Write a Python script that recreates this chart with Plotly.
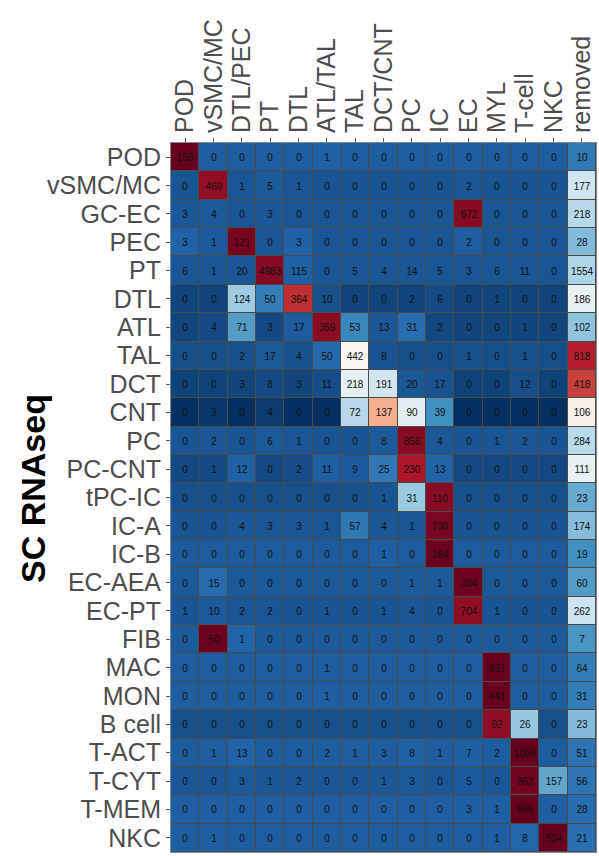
import numpy as np
import plotly.graph_objects as go

columns = ["POD", "vSMC/MC", "DTL/PEC", "PT", "DTL", "ATL/TAL", "TAL", "DCT/CNT",
           "PC", "IC", "EC", "MYL", "T-cell", "NKC", "removed"]
rows = ["POD", "vSMC/MC", "GC-EC", "PEC", "PT", "DTL", "ATL", "TAL", "DCT", "CNT",
        "PC", "PC-CNT", "tPC-IC", "IC-A", "IC-B", "EC-AEA", "EC-PT", "FIB", "MAC",
        "MON", "B cell", "T-ACT", "T-CYT", "T-MEM", "NKC"]

r_POD    = [159, 0, 0, 0, 0, 1, 0, 0, 0, 0, 0, 0, 0, 0, 10]
r_vSMC   = [0, 469, 1, 5, 1, 0, 0, 0, 0, 0, 2, 0, 0, 0, 177]
r_GCEC   = [3, 4, 0, 3, 0, 0, 0, 0, 0, 0, 672, 0, 0, 0, 218]
r_PEC    = [3, 1, 121, 0, 3, 0, 0, 0, 0, 0, 2, 0, 0, 0, 28]
r_PT     = [6, 1, 20, 4983, 115, 0, 5, 4, 14, 5, 3, 6, 11, 0, 1554]
r_DTL    = [0, 0, 124, 50, 364, 10, 0, 0, 2, 6, 0, 1, 0, 0, 186]
r_ATL    = [0, 4, 71, 3, 17, 359, 53, 13, 31, 2, 0, 0, 1, 0, 102]
r_TAL    = [0, 0, 2, 17, 4, 50, 442, 8, 0, 0, 1, 0, 1, 0, 818]
r_DCT    = [0, 0, 3, 8, 3, 11, 218, 191, 20, 17, 0, 0, 12, 0, 418]
r_CNT    = [0, 3, 0, 4, 0, 0, 72, 137, 90, 39, 0, 0, 0, 0, 106]
r_PC     = [0, 2, 0, 6, 1, 0, 0, 8, 856, 4, 0, 1, 2, 0, 284]
r_PCCNT  = [0, 1, 12, 0, 2, 11, 9, 25, 230, 13, 0, 0, 0, 0, 111]
r_tPCIC  = [0, 0, 0, 0, 0, 0, 0, 1, 31, 110, 0, 0, 0, 0, 23]
r_ICA    = [0, 0, 4, 3, 3, 1, 57, 4, 1, 730, 0, 0, 0, 0, 174]
r_ICB    = [0, 0, 0, 0, 0, 0, 0, 1, 0, 154, 0, 0, 0, 0, 19]
r_ECAEA  = [0, 15, 0, 0, 0, 0, 0, 0, 1, 1, 384, 0, 0, 0, 60]
r_ECPT   = [1, 10, 2, 2, 0, 1, 0, 1, 4, 0, 704, 1, 0, 0, 262]
r_FIB    = [0, 50, 1, 0, 0, 0, 0, 0, 0, 0, 0, 0, 0, 0, 7]
r_MAC    = [0, 0, 0, 0, 0, 1, 0, 0, 0, 0, 0, 831, 0, 0, 64]
r_MON    = [0, 0, 0, 0, 0, 1, 0, 0, 0, 0, 0, 441, 0, 0, 31]
r_Bcell  = [0, 0, 0, 0, 0, 0, 0, 0, 0, 0, 0, 92, 26, 0, 23]
r_TACT   = [0, 1, 13, 0, 0, 2, 1, 3, 8, 1, 7, 2, 1006, 0, 51]
r_TCYT   = [0, 0, 3, 1, 2, 0, 0, 1, 3, 0, 5, 0, 863, 157, 56]
r_TMEM   = [0, 0, 0, 0, 0, 0, 0, 0, 0, 0, 3, 1, 866, 0, 28]
r_NKC    = [0, 1, 0, 0, 0, 0, 0, 0, 0, 0, 0, 1, 8, 534, 21]

counts = np.array([r_POD, r_vSMC, r_GCEC, r_PEC, r_PT, r_DTL, r_ATL, r_TAL, r_DCT,
                   r_CNT, r_PC, r_PCCNT, r_tPCIC, r_ICA, r_ICB, r_ECAEA, r_ECPT,
                   r_FIB, r_MAC, r_MON, r_Bcell, r_TACT, r_TCYT, r_TMEM, r_NKC],
                  dtype=float)

# row-scaled (z-score) colouring, as in pheatmap(scale = "row")
z = (counts - counts.mean(axis=1, keepdims=True)) / counts.std(axis=1, ddof=1, keepdims=True)

rdbu = ["#053061", "#2166AC", "#4393C3", "#92C5DE", "#D1E5F0", "#F7F7F7",
        "#FDDBC7", "#F4A582", "#D6604D", "#B2182B", "#67001F"]
colorscale = [[i / (len(rdbu) - 1), c] for i, c in enumerate(rdbu)]

fig = go.Figure(go.Heatmap(
    z=z, x=columns, y=rows,
    text=counts.astype(int).astype(str),
    texttemplate="%{text}",
    textfont=dict(size=10, color="#111111", family="Arial, Liberation Sans"),
    colorscale=colorscale, zmin=z.min(), zmax=z.max(),
    showscale=False, xgap=1, ygap=1, hoverinfo="skip",
))

L, T, W, H = 171, 143, 425, 709
fig.update_layout(
    width=599, height=856,
    margin=dict(l=L, r=599 - L - W, t=T, b=856 - T - H, pad=0),
    paper_bgcolor="white", plot_bgcolor="#4a4a4a",
    font=dict(family="Arial, Liberation Sans", color="#4D4D4D"),
    xaxis=dict(side="top", tickangle=-90, tickfont=dict(size=25, color="#4D4D4D"),
               tickmode="array", tickvals=columns, ticktext=columns,
               ticks="outside", ticklen=4, tickcolor="#555555", showgrid=False,
               zeroline=False, showline=True, linecolor="#888888", mirror=True,
               fixedrange=True),
    yaxis=dict(autorange="reversed", tickfont=dict(size=25, color="#4D4D4D"),
               tickmode="array", tickvals=rows, ticktext=rows,
               ticks="outside", ticklen=4, tickcolor="#555555", showgrid=False,
               zeroline=False, showline=True, linecolor="#888888", mirror=True,
               fixedrange=True),
    annotations=[
        dict(text="<b>SC RNAseq</b>", xref="paper", yref="paper",
             x=(33 - L) / W, y=(T + H - 489) / H, xanchor="center", yanchor="middle",
             textangle=-90, showarrow=False,
             font=dict(size=34, color="black", family="Arial, Liberation Sans")),
        dict(text="<b>g</b>", xref="paper", yref="paper",
             x=(100 - L) / W, y=(T + H - 0) / H, xanchor="center", yanchor="bottom",
             showarrow=False,
             font=dict(size=48, color="black", family="Arial, Liberation Sans")),
    ],
)

fig.write_html("out.html")
